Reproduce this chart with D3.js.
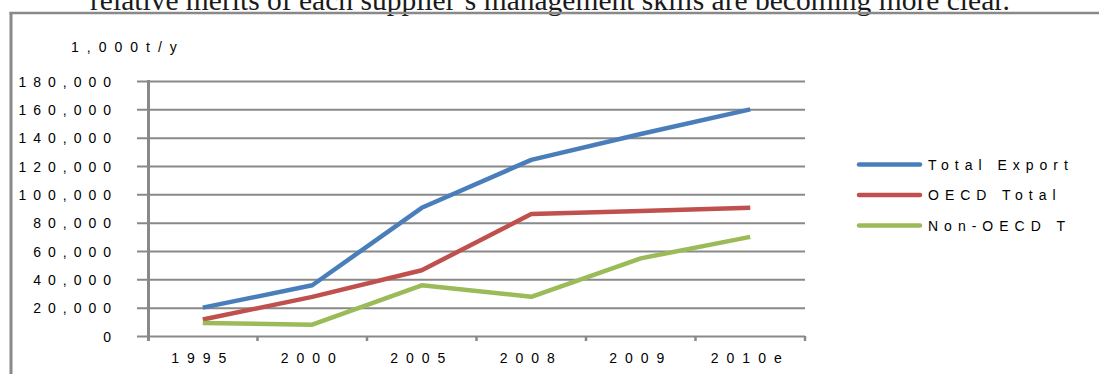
<!DOCTYPE html>
<html>
<head>
<meta charset="utf-8">
<script src="https://cdn.jsdelivr.net/npm/d3@7"></script>
<style>
  html, body { margin: 0; padding: 0; background: #fff; }
  svg { display: block; }
</style>
</head>
<body>
<svg id="chart" width="1099" height="374"></svg>
<script>
// Export volumes, thousand tonnes per year
const categories = ["1995", "2000", "2005", "2008", "2009", "2010e"];
const totalExport = [20000, 35800, 90500, 124300, 142600, 160000];
const oecdTotal   = [11600, 27600, 46400, 86100, 88300, 90600];
const nonOecd     = [9200, 8000, 35800, 27700, 54800, 70000];
const seriesNames = ["Total Export", "OECD Total", "Non-OECD T"];
const seriesColors = ["#4a7ebb", "#c0504d", "#9bbb59"];
const yTicks = [0, 20000, 40000, 60000, 80000, 100000, 120000, 140000, 160000, 180000];
const unitLabel = "1,000t/y";
const caption = "relative merits of each supplier\u2019s management skills are becoming more clear.";

const series = [totalExport, oecdTotal, nonOecd];

const svg = d3.select("#chart");
const gridColor = "#898989";
const textFont = "'Liberation Sans', Arial, sans-serif";

const plot = { left: 148, right: 805, top: 81, bottom: 336 };

const x = d3.scaleBand().domain(categories).range([plot.left, plot.right]).padding(0);
const y = d3.scaleLinear().domain([0, 180000]).range([plot.bottom, plot.top]);
const cx = c => x(c) + x.bandwidth() / 2;

// Caption from the surrounding page, cut off at the top edge;
// font size chosen so the sentence runs from x=90 to x=1010
const cap = svg.append("text")
  .attr("x", 90).attr("y", 10)
  .style("font-family", "'Liberation Serif', 'Times New Roman', serif")
  .style("font-size", "25px")
  .attr("fill", "#1a1a1a")
  .text(caption);
const natural = cap.node().getComputedTextLength();
cap.style("font-size", (25 * 920 / natural).toFixed(2) + "px");

// Chart frame
svg.append("line").attr("x1", 9.5).attr("x2", 1099).attr("y1", 13).attr("y2", 13)
  .attr("stroke", gridColor).attr("stroke-width", 2.5);
svg.append("line").attr("x1", 11).attr("x2", 11).attr("y1", 12).attr("y2", 374)
  .attr("stroke", gridColor).attr("stroke-width", 3);

// Unit label
svg.append("text")
  .attr("x", 71).attr("y", 52)
  .style("font-family", textFont).style("font-size", "14px")
  .style("letter-spacing", "8px")
  .attr("fill", "#000")
  .text(unitLabel);

// Value axis with horizontal gridlines
const yAxis = svg.append("g")
  .attr("transform", `translate(${plot.left},0)`)
  .call(d3.axisLeft(y).tickValues(yTicks).tickSize(0).tickPadding(0).tickFormat(d3.format(",")));
yAxis.select(".domain").remove();
yAxis.selectAll(".tick line")
  .attr("x1", -11).attr("x2", plot.right - plot.left)
  .attr("stroke", gridColor).attr("stroke-width", 2);
yAxis.selectAll(".tick text")
  .attr("x", -30).attr("dy", "0.36em")
  .style("font-family", textFont).style("font-size", "14px")
  .style("letter-spacing", "7px")
  .attr("fill", "#000");

// Category axis: tick marks on band boundaries, labels centred in bands
const xAxis = svg.append("g")
  .attr("transform", `translate(0,${plot.bottom})`);
const boundaries = categories.map(c => x(c)).concat([plot.right]);
xAxis.selectAll("line.tk").data(boundaries.slice(1)).join("line")
  .attr("class", "tk")
  .attr("x1", d => d).attr("x2", d => d)
  .attr("y1", 0).attr("y2", 5)
  .attr("stroke", gridColor).attr("stroke-width", 2.5);
xAxis.selectAll("text").data(categories).join("text")
  .attr("x", d => cx(d)).attr("y", 27)
  .attr("text-anchor", "middle")
  .style("font-family", textFont).style("font-size", "14px")
  .style("letter-spacing", "8px")
  .attr("fill", "#000")
  .text(d => d);

// Vertical value-axis line
svg.append("line")
  .attr("x1", plot.left + 0.5).attr("x2", plot.left + 0.5)
  .attr("y1", plot.top - 1).attr("y2", plot.bottom + 5)
  .attr("stroke", gridColor).attr("stroke-width", 3);

// Series lines
const line = d3.line().x((d, i) => cx(categories[i])).y(d => y(d));
svg.append("g").selectAll("path").data(series).join("path")
  .attr("d", d => line(d))
  .attr("fill", "none")
  .attr("stroke", (d, i) => seriesColors[i])
  .attr("stroke-width", 4.5)
  .attr("stroke-linejoin", "round")
  .attr("stroke-linecap", "butt");

// Legend
const legend = svg.append("g").selectAll("g").data(seriesNames).join("g")
  .attr("transform", (d, i) => `translate(857,${164.5 + i * 30.5})`);
legend.append("line")
  .attr("x1", 2).attr("x2", 63).attr("y1", 0).attr("y2", 0)
  .attr("stroke", (d, i) => seriesColors[i])
  .attr("stroke-width", 4.5).attr("stroke-linecap", "round");
legend.append("text")
  .attr("x", 71).attr("y", 0).attr("dy", "0.36em")
  .style("font-family", textFont).style("font-size", "14px")
  .style("letter-spacing", "6px")
  .attr("fill", "#000")
  .text(d => d);
</script>
</body>
</html>
